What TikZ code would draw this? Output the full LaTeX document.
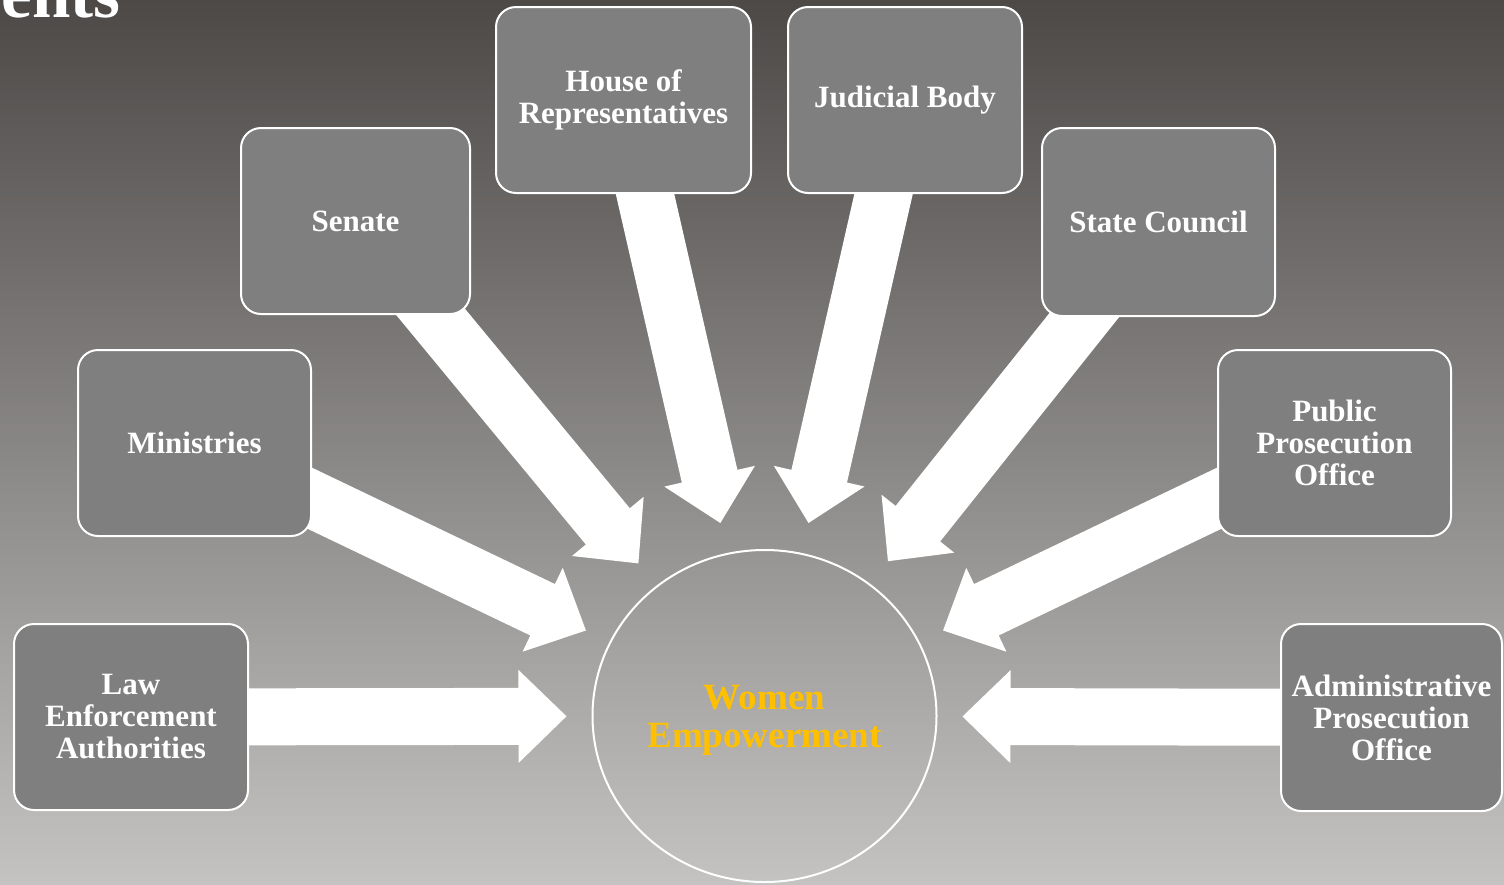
\documentclass[tikz,border=0pt]{standalone}
\usepackage{fontspec}
\setmainfont{Liberation Serif}
\usetikzlibrary{calc,shapes.geometric}
\pgfdeclarelayer{bg}
\pgfdeclarelayer{arr}
\pgfsetlayers{bg,arr,main}
\definecolor{boxgray}{RGB}{127,127,127}
\definecolor{gold}{RGB}{255,192,0}
\definecolor{bgtop}{RGB}{76,73,71}
\definecolor{bgmid}{RGB}{138,135,133}
\definecolor{bgbot}{RGB}{196,195,193}
\tikzset{
  orgbox/.style={draw=white, line width=2pt, fill=boxgray, rounded corners=20pt,
    text=white, font=\bfseries\fontsize{31}{32}\selectfont, align=center,
    inner sep=0pt, minimum height=186pt},
  hub/.style={ellipse, draw=white, line width=2pt, minimum width=344pt,
    minimum height=332pt, inner sep=0pt},
  hubtext/.style={text=gold, font=\bfseries\fontsize{37}{38}\selectfont, align=center, inner sep=0pt},
  blockarrow/.style={fill=white, draw=none},
  titletext/.style={text=white, font=\bfseries\fontsize{69}{69}\selectfont, inner sep=0pt}
}
\begin{document}
\begin{tikzpicture}[x=1pt, y=-1pt]
\useasboundingbox (0,0) rectangle (1504,884);
\begin{pgfonlayer}{bg}
  \shade[top color=bgtop, middle color=bgmid, bottom color=bgbot] (0,0) rectangle (1504,884);
\end{pgfonlayer}

\node[titletext, anchor=base east] (title) at (121,17) {ents};

\node[hub] (wep) at (764.5,716) {};
\node[hubtext] (weplabel) at (764.5,720) {Women\\Empowerment};

\node[orgbox, minimum width=234pt] (law) at (131,717) {Law\\Enforcement\\Authorities};
\node[orgbox, minimum width=233pt] (minis) at (194.5,443) {Ministries};
\node[orgbox, minimum width=229pt] (senate) at (355.5,221) {Senate};
\node[orgbox, minimum width=255pt] (house) at (623.5,100) {House of\\Representatives};
\node[orgbox, minimum width=234pt] (judic) at (905,100) {Judicial Body};
\node[orgbox, minimum width=233pt, minimum height=188pt] (state) at (1158.5,222) {State Council};
\node[orgbox, minimum width=233pt] (public) at (1334.5,443) {Public\\Prosecution\\Office};
\node[orgbox, minimum width=221pt, minimum height=187pt] (admin) at (1391.5,717.5) {Administrative\\Prosecution\\Office};

\begin{pgfonlayer}{arr}
\foreach \b in {law,minis,senate,house,judic,state,public,admin}{
  \coordinate (T-\b) at ($(wep.center)!198pt!(\b.center)$);
  \coordinate (H-\b) at ($(T-\b)!48pt!(\b.center)$);
  \fill[blockarrow] ($(\b.center)!28.5pt!90:(T-\b)$)
    -- ($(H-\b)!28.5pt!90:(T-\b)$)
    -- ($(H-\b)!46.5pt!90:(T-\b)$)
    -- (T-\b)
    -- ($(H-\b)!46.5pt!-90:(T-\b)$)
    -- ($(H-\b)!28.5pt!-90:(T-\b)$)
    -- ($(\b.center)!28.5pt!-90:(T-\b)$) -- cycle;
}
\end{pgfonlayer}
\end{tikzpicture}
\end{document}
